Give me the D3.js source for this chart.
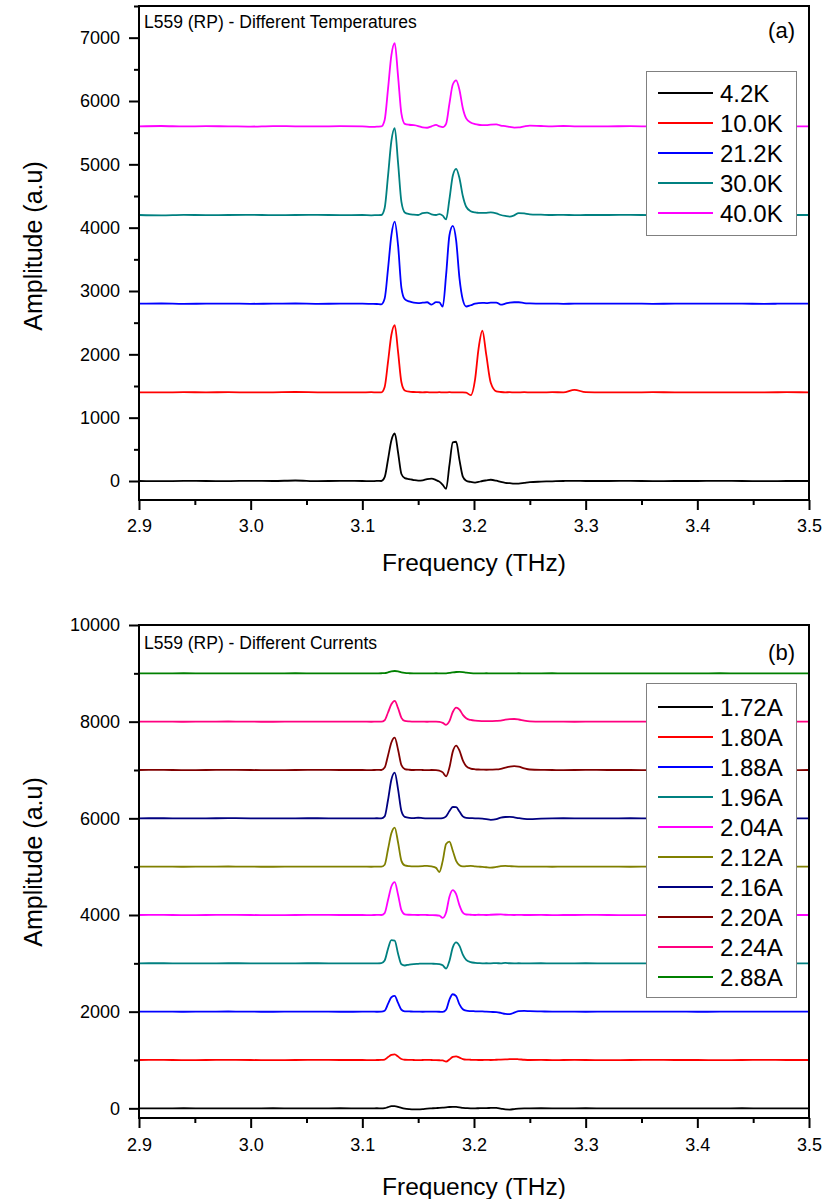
<!DOCTYPE html>
<html><head><meta charset="utf-8">
<script src="https://cdn.jsdelivr.net/npm/d3@7"></script>
<style>body{margin:0;background:#fff}svg{display:block}text{font-family:"Liberation Sans",Arial,sans-serif;fill:#000}</style>
</head><body><svg id="c" width="826" height="1199"></svg>
<script>
// ---------- DATA ----------
const freq = [2.90, 2.92, 2.94, 2.96, 2.98, 3.00, 3.02, 3.04, 3.06, 3.08,
 3.10, 3.108, 3.113, 3.117, 3.120, 3.123, 3.126, 3.129, 3.132, 3.135,
 3.138, 3.142, 3.146, 3.150, 3.154, 3.158, 3.162, 3.166, 3.169, 3.172,
 3.175, 3.178, 3.181, 3.184, 3.187, 3.190, 3.193, 3.197, 3.201, 3.204,
 3.2075, 3.211, 3.215, 3.220, 3.224, 3.228, 3.232, 3.236, 3.240, 3.245,
 3.250, 3.260, 3.270, 3.280, 3.290, 3.300, 3.320, 3.340, 3.360, 3.380,
 3.400, 3.420, 3.440, 3.460, 3.480, 3.500];

const xTicks = [2.9, 3.0, 3.1, 3.2, 3.3, 3.4, 3.5];
const xTickLabels = ["2.9", "3.0", "3.1", "3.2", "3.3", "3.4", "3.5"];
const xMinorTicks = [2.95, 3.05, 3.15, 3.25, 3.35, 3.45];

// Panel (a): different temperatures
const tempLabels = ["4.2K", "10.0K", "21.2K", "30.0K", "40.0K"];
const amp4_2K = [0, -3, 2, 0, -2, 3, 0, 8, -2, 2,
 0, -3, 2, 0, 60, 340, 640, 750, 450, 110,
 45, 30, 15, 5, 10, 30, 37, 15, -10, -60,
 -125, 250, 610, 620, 330, 70, 5, -15, -25, -15,
 0, 10, 20, 5, -15, -30, -35, -40, -42, -30,
 -18, -10, -5, 0, 3, 0, 0, 2, -2, 0,
 0, 2, 0, -2, 0, 0];
const amp10_0K = [1400, 1398, 1402, 1400, 1403, 1398, 1400, 1405, 1400, 1398,
 1400, 1402, 1398, 1400, 1485, 1880, 2305, 2462, 2040, 1560,
 1430, 1410, 1405, 1403, 1400, 1402, 1398, 1400, 1402, 1398,
 1400, 1402, 1400, 1398, 1400, 1400, 1395, 1355, 1610, 2080,
 2372, 1990, 1550, 1415, 1405, 1400, 1402, 1398, 1400, 1402,
 1400, 1398, 1402, 1400, 1440, 1402, 1400, 1398, 1402, 1400,
 1400, 1400, 1398, 1400, 1402, 1400];
const amp21_2K = [2800, 2803, 2797, 2800, 2802, 2798, 2800, 2803, 2798, 2800,
 2800, 2797, 2795, 2790, 2880, 3350, 3880, 4095, 3720, 3050,
 2870, 2835, 2815, 2810, 2815, 2822, 2785, 2825, 2820, 2752,
 3250, 3880, 4028, 3800, 3200, 2860, 2755, 2775, 2800, 2810,
 2812, 2810, 2815, 2818, 2785, 2800, 2818, 2822, 2822, 2810,
 2805, 2800, 2802, 2798, 2800, 2800, 2800, 2802, 2798, 2800,
 2800, 2802, 2800, 2798, 2800, 2800];
const amp30_0K = [4200, 4195, 4202, 4198, 4200, 4203, 4197, 4200, 4202, 4198,
 4200, 4195, 4198, 4200, 4310, 4817, 5366, 5572, 5023, 4406,
 4241, 4215, 4205, 4200, 4230, 4238, 4210, 4200, 4215, 4190,
 4130, 4450, 4820, 4929, 4780, 4500, 4330, 4260, 4240, 4235,
 4232, 4235, 4240, 4225, 4200, 4185, 4175, 4195, 4230, 4225,
 4210, 4205, 4200, 4202, 4198, 4200, 4200, 4202, 4198, 4200,
 4200, 4198, 4200, 4202, 4200, 4200];
const amp40_0K = [5600, 5605, 5598, 5602, 5600, 5596, 5604, 5600, 5598, 5603,
 5600, 5590, 5595, 5598, 5700, 6190, 6720, 6915, 6390, 5800,
 5640, 5625, 5618, 5605, 5585, 5578, 5600, 5622, 5600, 5588,
 5640, 5960, 6260, 6325, 6175, 5885, 5725, 5660, 5635, 5625,
 5620, 5618, 5628, 5632, 5612, 5605, 5592, 5580, 5582, 5600,
 5612, 5605, 5600, 5605, 5600, 5598, 5600, 5602, 5598, 5600,
 5600, 5600, 5600, 5602, 5600, 5600];
const tempYTicks = [0, 1000, 2000, 3000, 4000, 5000, 6000, 7000];
const tempYMinor = [500, 1500, 2500, 3500, 4500, 5500, 6500, 7500];

// Panel (b): different currents
const currLabels = ["1.72A", "1.80A", "1.88A", "1.96A", "2.04A", "2.12A", "2.16A", "2.20A", "2.24A", "2.88A"];
const amp1_72A = [0, 0, 2, 0, -2, 0, 2, 0, 0, 2,
 0, 0, 2, 0, 5, 25, 45, 45, 30, 10,
 -5, -15, -20, -20, -15, -5, 0, 5, 10, 15,
 20, 28, 32, 30, 22, 10, 5, 0, 0, 2,
 5, 5, 8, 10, -5, -22, -25, -15, -5, 0,
 0, 2, 0, 0, 0, 2, 0, 0, 0, 0,
 0, 0, 2, 0, 0, 0];
const amp1_80A = [1000, 1002, 998, 1000, 1003, 1000, 998, 1000, 1002, 1000,
 1000, 998, 1000, 1002, 1010, 1060, 1105, 1115, 1070, 1020,
 1005, 1002, 1000, 998, 1000, 1002, 1000, 998, 995, 990,
 968, 1010, 1065, 1075, 1050, 1020, 1008, 1005, 1002, 1000,
 1000, 1002, 1000, 1005, 1008, 1012, 1018, 1020, 1015, 1005,
 1000, 1002, 998, 1000, 1002, 1000, 998, 1000, 1002, 1000,
 1000, 998, 1000, 1002, 1000, 1000];
const amp1_88A = [2000, 2002, 1998, 2000, 2003, 2000, 1998, 2002, 2000, 1998,
 2000, 2002, 1998, 2000, 2020, 2160, 2300, 2325, 2180, 2040,
 2008, 2005, 2002, 2000, 1998, 2000, 2002, 2000, 1998, 1995,
 2040, 2250, 2360, 2320, 2150, 2050, 2020, 2012, 2008, 2005,
 2005, 2000, 1995, 1990, 1975, 1955, 1950, 1980, 2012, 2015,
 2010, 2005, 2000, 2002, 2000, 1998, 2000, 2002, 2000, 2000,
 1998, 2000, 2002, 2000, 2000, 2000];
const amp1_96A = [3000, 3002, 2998, 3000, 3002, 3000, 2998, 3000, 3002, 3000,
 3000, 2998, 3000, 3005, 3060, 3300, 3480, 3470, 3200, 2980,
 2955, 2975, 2985, 2990, 2995, 2995, 2992, 2990, 2985, 2960,
 2890, 3050, 3330, 3432, 3360, 3180, 3070, 3025, 3010, 3005,
 3000, 3002, 3000, 3005, 2998, 3010, 3002, 3000, 3002, 3000,
 3000, 3002, 2998, 3000, 3000, 3002, 3000, 2998, 3000, 3000,
 3002, 3000, 3000, 2998, 3000, 3000];
const amp2_04A = [4000, 4002, 3998, 4000, 4003, 4000, 3998, 4000, 4002, 4000,
 4000, 3998, 4002, 4000, 4040, 4310, 4590, 4680, 4420, 4100,
 4015, 4005, 4002, 4000, 4003, 4000, 3998, 3995, 3985, 3940,
 4050, 4380, 4515, 4430, 4200, 4050, 4010, 4005, 4000, 4005,
 4002, 4000, 4005, 4010, 4012, 4005, 4002, 4000, 4002, 4000,
 4000, 4002, 3998, 4000, 4000, 4002, 4000, 3998, 4000, 4000,
 4002, 4000, 4000, 3998, 4000, 4000];
const amp2_12A = [5000, 5002, 4998, 5000, 5003, 5000, 4998, 5000, 5002, 5000,
 5000, 4998, 5002, 5000, 5040, 5360, 5690, 5809, 5500, 5120,
 5025, 5010, 5005, 5008, 5012, 5018, 5005, 4975, 4890, 5120,
 5470, 5520, 5330, 5120, 5030, 5005, 5010, 5015, 5005, 5000,
 4995, 4988, 4982, 4995, 5012, 5015, 5010, 5005, 5002, 5000,
 5000, 5002, 4998, 5000, 5000, 5002, 5000, 4998, 5000, 5000,
 5002, 5000, 5000, 4998, 5000, 5000];
const amp2_16A = [6000, 6002, 5998, 6000, 6003, 6000, 5998, 6000, 6002, 6000,
 6000, 5998, 6002, 6000, 6040, 6380, 6800, 6946, 6600, 6150,
 6030, 6010, 6005, 6012, 6005, 6000, 5998, 6000, 6000, 6005,
 6040, 6150, 6235, 6230, 6140, 6040, 6010, 6005, 6000, 6000,
 5995, 5985, 5970, 5985, 6015, 6028, 6030, 6020, 6005, 5990,
 5985, 5995, 6000, 6002, 6000, 5998, 6000, 6002, 6000, 6000,
 5998, 6000, 6002, 6000, 6000, 6000];
const amp2_20A = [7000, 7002, 6998, 7000, 7003, 7000, 6998, 7000, 7002, 7000,
 7000, 6998, 7002, 7000, 7050, 7300, 7570, 7670, 7420, 7100,
 7020, 7005, 7000, 7002, 7000, 6998, 7000, 6998, 6985, 6950,
 6870, 7050, 7380, 7505, 7400, 7200, 7080, 7030, 7015, 7010,
 7008, 7005, 7008, 7012, 7025, 7050, 7072, 7080, 7070, 7035,
 7010, 7002, 7000, 6998, 7000, 7002, 7000, 7000, 6998, 7000,
 7000, 7002, 7000, 7000, 6998, 7000];
const amp2_24A = [8000, 8002, 7998, 8000, 8003, 8000, 7998, 8000, 8002, 8000,
 8000, 7998, 8002, 8000, 8030, 8190, 8360, 8429, 8280, 8080,
 8015, 8005, 8000, 8002, 8000, 7998, 8000, 8000, 7995, 7975,
 7935, 8010, 8200, 8290, 8250, 8140, 8070, 8035, 8020, 8015,
 8012, 8010, 8012, 8015, 8020, 8040, 8052, 8055, 8045, 8020,
 8005, 8000, 8002, 8000, 7998, 8000, 8002, 8000, 8000, 7998,
 8000, 8002, 8000, 8000, 8000, 8000];
const amp2_88A = [9000, 9000, 9002, 9000, 8998, 9000, 9000, 9002, 9000, 9000,
 9000, 8998, 9000, 9002, 9005, 9020, 9040, 9048, 9040, 9020,
 9008, 9002, 9000, 9000, 8998, 9000, 9000, 9002, 9000, 8998,
 9000, 9008, 9020, 9028, 9030, 9025, 9015, 9005, 9000, 9000,
 9000, 9002, 9000, 9000, 8998, 9000, 9000, 9000, 9002, 9000,
 9000, 9000, 9002, 9000, 9000, 9000, 8998, 9000, 9000, 9000,
 9000, 9002, 9000, 9000, 9000, 9000];
const currYTicks = [0, 2000, 4000, 6000, 8000, 10000];
const currYMinor = [1000, 3000, 5000, 7000, 9000];

// ---------- STYLE ----------
const tempColors = ["#000000", "#ff0000", "#0000ff", "#008080", "#ff00ff"];
const currColors = ["#000000", "#ff0000", "#0000ff", "#008080", "#ff00ff", "#808000", "#000080", "#800000", "#ff0080", "#008000"];

const svg = d3.select("#c");
const L = 139, R = 809;
const x = d3.scaleLinear().domain([2.9, 3.5]).range([L, R]);

function drawPanel(cfg) {
  const g = svg.append("g");
  const y = d3.scaleLinear().domain(cfg.yDomain).range([cfg.bottom, cfg.top]);
  const clipId = "clip-" + cfg.key;
  svg.append("clipPath").attr("id", clipId).append("rect")
    .attr("x", L).attr("y", cfg.top).attr("width", R - L).attr("height", cfg.bottom - cfg.top);

  const line = d3.line().x((d, i) => x(freq[i])).y(d => y(d)).curve(d3.curveMonotoneX);
  const lines = g.append("g").attr("clip-path", `url(#${clipId})`);
  cfg.series.forEach((s, k) => {
    lines.append("path").attr("d", line(s)).attr("fill", "none")
      .attr("stroke", cfg.colors[k]).attr("stroke-width", 1.8).attr("stroke-linejoin", "round");
  });

  // x axis ticks
  const xa = g.append("g").attr("transform", `translate(0,${cfg.bottom})`)
    .call(d3.axisBottom(x).tickValues(xTicks).tickSize(10).tickSizeOuter(0)
      .tickFormat((d, i) => xTickLabels[i]));
  xa.select(".domain").remove();
  xa.selectAll("line").attr("stroke", "#000").attr("stroke-width", 2);
  xa.selectAll("text").attr("dy", null).attr("y", cfg.xLabelOffset).attr("font-size", 18).attr("font-family", null);
  const xm = g.append("g").attr("transform", `translate(0,${cfg.bottom})`)
    .call(d3.axisBottom(x).tickValues(xMinorTicks).tickSize(5).tickSizeOuter(0).tickFormat(""));
  xm.select(".domain").remove();
  xm.selectAll("line").attr("stroke", "#000").attr("stroke-width", 2);

  // y axis ticks
  const ya = g.append("g").attr("transform", `translate(${L},0)`)
    .call(d3.axisLeft(y).tickValues(cfg.yTicks).tickSize(10).tickPadding(9).tickSizeOuter(0)
      .tickFormat(d3.format("d")));
  ya.select(".domain").remove();
  ya.selectAll("line").attr("stroke", "#000").attr("stroke-width", 2);
  ya.selectAll("text").attr("font-size", 18).attr("font-family", null);
  const ym = g.append("g").attr("transform", `translate(${L},0)`)
    .call(d3.axisLeft(y).tickValues(cfg.yMinor).tickSize(5).tickSizeOuter(0).tickFormat(""));
  ym.select(".domain").remove();
  ym.selectAll("line").attr("stroke", "#000").attr("stroke-width", 2);

  // frame
  g.append("rect").attr("x", L).attr("y", cfg.top).attr("width", R - L).attr("height", cfg.bottom - cfg.top)
    .attr("fill", "none").attr("stroke", "#000").attr("stroke-width", 2);

  // title + tag
  g.append("text").attr("x", 144).attr("y", cfg.top + cfg.titleOffset).attr("font-size", 17.5).text(cfg.title);
  g.append("text").attr("x", 795).attr("y", cfg.top + cfg.tagOffset).attr("text-anchor", "end")
    .attr("font-size", 22).text(cfg.tag);

  // axis titles
  g.append("text").attr("transform", `translate(33,${cfg.yTitleY}) rotate(-90)`).attr("dy", "0.35em")
    .attr("text-anchor", "middle").attr("font-size", 25).text("Amplitude (a.u)");
  g.append("text").attr("x", (L + R) / 2).attr("y", cfg.xTitleY).attr("text-anchor", "middle")
    .attr("font-size", 24.5).text("Frequency (THz)");

  // legend
  const lg = g.append("g");
  lg.append("rect").attr("x", 646.5).attr("y", cfg.legTop + 0.5).attr("width", 150).attr("height", cfg.legH)
    .attr("fill", "#fff").attr("stroke", "#808080").attr("stroke-width", 1);
  cfg.labels.forEach((lab, k) => {
    const yy = cfg.legTop + cfg.legFirst + k * 30;
    lg.append("line").attr("x1", 658).attr("x2", 713).attr("y1", yy).attr("y2", yy)
      .attr("stroke", cfg.colors[k]).attr("stroke-width", 1.8);
    lg.append("text").attr("x", 720).attr("y", yy).attr("dy", "0.36em").attr("font-size", 24).text(lab);
  });
}

drawPanel({
  key: "a", top: 6, bottom: 500, yDomain: [-300, 7500], yTicks: tempYTicks, yMinor: tempYMinor,
  series: [amp4_2K, amp10_0K, amp21_2K, amp30_0K, amp40_0K], colors: tempColors, labels: tempLabels,
  title: "L559 (RP) - Different Temperatures", tag: "(a)", titleOffset: 22, tagOffset: 32,
  yTitleY: 246, xTitleY: 571, xLabelOffset: 31.5, legTop: 71, legH: 164, legFirst: 22
});
drawPanel({
  key: "b", top: 625, bottom: 1118, yDomain: [-200, 10000], yTicks: currYTicks, yMinor: currYMinor,
  series: [amp1_72A, amp1_80A, amp1_88A, amp1_96A, amp2_04A, amp2_12A, amp2_16A, amp2_20A, amp2_24A, amp2_88A],
  colors: currColors, labels: currLabels,
  title: "L559 (RP) - Different Currents", tag: "(b)", titleOffset: 24, tagOffset: 35,
  yTitleY: 862, xTitleY: 1195, xLabelOffset: 33, legTop: 683, legH: 314, legFirst: 24
});
</script>
</body></html>
